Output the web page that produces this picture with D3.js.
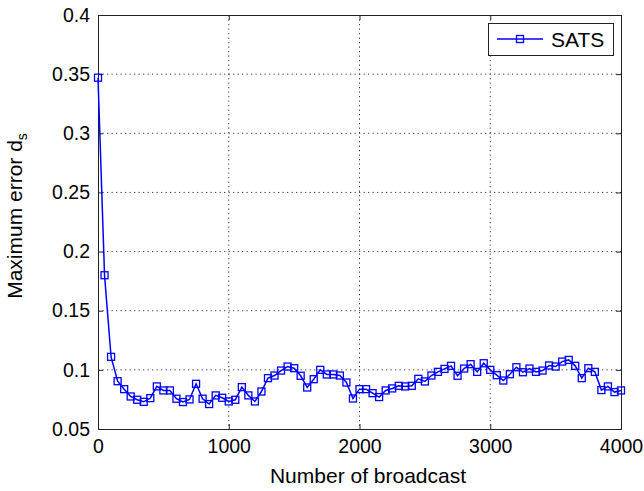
<!DOCTYPE html>
<html>
<head>
<meta charset="utf-8">
<script src="https://cdn.jsdelivr.net/npm/d3@7"></script>
<style>
  body { margin: 0; background: #fff; }
  text { font-family: "Liberation Sans", Arial, Helvetica, sans-serif; fill: #000; }
</style>
</head>
<body>
<div id="plot"></div>
<script>
// number of broadcasts (x) and max error d_s (y)
const broadcasts = [
  0, 50, 100, 150, 200, 250, 300, 350, 400, 450,
  500, 550, 600, 650, 700, 750, 800, 850, 900, 950,
  1000, 1050, 1100, 1150, 1200, 1250, 1300, 1350, 1400, 1450,
  1500, 1550, 1600, 1650, 1700, 1750, 1800, 1850, 1900, 1950,
  2000, 2050, 2100, 2150, 2200, 2250, 2300, 2350, 2400, 2450,
  2500, 2550, 2600, 2650, 2700, 2750, 2800, 2850, 2900, 2950,
  3000, 3050, 3100, 3150, 3200, 3250, 3300, 3350, 3400, 3450,
  3500, 3550, 3600, 3650, 3700, 3750, 3800, 3850, 3900, 3950,
  4000
];
const satsError = [
  0.347, 0.180, 0.111, 0.0904, 0.0837, 0.0775, 0.0747, 0.0730, 0.0761, 0.0860,
  0.0826, 0.0826, 0.0756, 0.0728, 0.0750, 0.0882, 0.0756, 0.0711, 0.0784, 0.0764,
  0.0733, 0.0747, 0.0854, 0.0784, 0.0733, 0.0817, 0.0930, 0.0952, 0.0994, 0.1028,
  0.1014, 0.0950, 0.0851, 0.0921, 0.1000, 0.0961, 0.0961, 0.0952, 0.0893, 0.0758,
  0.0837, 0.0837, 0.0803, 0.0770, 0.0826, 0.0843, 0.0865, 0.0860, 0.0865, 0.0924,
  0.0902, 0.0952, 0.0983, 0.1008, 0.1034, 0.0950, 0.1011, 0.1048, 0.0983, 0.1056,
  0.1000, 0.0955, 0.0910, 0.0963, 0.1022, 0.0980, 0.1011, 0.0983, 0.0994, 0.1037,
  0.1028, 0.1070, 0.1084, 0.1034, 0.0930, 0.1014, 0.0983, 0.0829, 0.0860, 0.0812,
  0.0826
];
const xTicks = [0, 1000, 2000, 3000, 4000];
const yTicks = [0.05, 0.1, 0.15, 0.2, 0.25, 0.3, 0.35, 0.4];
const seriesName = 'SATS';

const width = 644;
const height = 491;
const margin = { top: 15, right: 23, bottom: 62, left: 98 };
const innerWidth = width - margin.left - margin.right;
const innerHeight = height - margin.top - margin.bottom;
const blue = '#0000ff';

const svg = d3.select('#plot').append('svg')
  .attr('width', width)
  .attr('height', height);

const g = svg.append('g')
  .attr('transform', `translate(${margin.left}, ${margin.top})`);

const xScale = d3.scaleLinear().domain([0, 4000]).range([0, innerWidth]);
const yScale = d3.scaleLinear().domain([0.05, 0.4]).range([innerHeight, 0]);

// dotted grid (inner ticks only)
g.selectAll('.grid-x').data(xTicks.slice(1, -1)).enter().append('line')
  .attr('class', 'grid-x')
  .attr('x1', d => xScale(d)).attr('x2', d => xScale(d))
  .attr('y1', 0).attr('y2', innerHeight)
  .attr('stroke', '#444').attr('stroke-dasharray', '1.3,3.2');
g.selectAll('.grid-y').data(yTicks.slice(1, -1)).enter().append('line')
  .attr('class', 'grid-y')
  .attr('x1', 0).attr('x2', innerWidth)
  .attr('y1', d => yScale(d)).attr('y2', d => yScale(d))
  .attr('stroke', '#444').attr('stroke-dasharray', '1.3,3.2');

// axes, ticks pointing inward
const fmtY = d => d3.format('')(+d.toFixed(2));
const styleAxis = sel => {
  sel.select('.domain').remove();
  sel.attr('font-family', null).attr('font-size', null);
  sel.selectAll('line').attr('stroke', '#222');
  sel.selectAll('text').style('font-size', '19.5px').attr('fill', '#000');
};
// tick-only axes (top / right) have no labels
const ticksOnly = sel => {
  styleAxis(sel);
  sel.selectAll('text').remove();
};
g.append('g').attr('transform', `translate(0, ${innerHeight})`)
  .call(d3.axisBottom(xScale).tickValues(xTicks).tickSize(-5).tickPadding(10).tickFormat(d3.format('')))
  .call(styleAxis);
g.append('g')
  .call(d3.axisTop(xScale).tickValues(xTicks).tickSize(-5))
  .call(ticksOnly);
g.append('g')
  .call(d3.axisLeft(yScale).tickValues(yTicks).tickSize(-5).tickPadding(8).tickFormat(fmtY))
  .call(styleAxis);
g.append('g').attr('transform', `translate(${innerWidth}, 0)`)
  .call(d3.axisRight(yScale).tickValues(yTicks).tickSize(-5))
  .call(ticksOnly);

g.append('rect')
  .attr('width', innerWidth).attr('height', innerHeight)
  .attr('fill', 'none').attr('stroke', '#222').attr('stroke-width', 1)
  .attr('shape-rendering', 'crispEdges');

// data line + square markers
const points = broadcasts.map((b, i) => ({ x: b, y: satsError[i] }));
const line = d3.line().x(d => xScale(d.x)).y(d => yScale(d.y));
g.append('path')
  .datum(points)
  .attr('d', line)
  .attr('fill', 'none')
  .attr('stroke', blue)
  .attr('stroke-width', 1.5);

const sq = 7;
g.selectAll('.marker').data(points).enter().append('rect')
  .attr('class', 'marker')
  .attr('x', d => xScale(d.x) - sq / 2)
  .attr('y', d => yScale(d.y) - sq / 2)
  .attr('width', sq).attr('height', sq)
  .attr('fill', 'none')
  .attr('stroke', blue)
  .attr('stroke-width', 1.3);

// axis labels
svg.append('text')
  .attr('x', 368).attr('y', 483)
  .attr('text-anchor', 'middle')
  .style('font-size', '21px')
  .text('Number of broadcast');

const yLabel = svg.append('text')
  .attr('transform', 'translate(22, 216) rotate(-90)')
  .attr('text-anchor', 'middle')
  .style('font-size', '21px');
yLabel.append('tspan').text('Maximum error d');
yLabel.append('tspan').attr('dy', 5).style('font-size', '14px').text('s');

// legend
const legend = svg.append('g').attr('transform', 'translate(488, 23)');
legend.append('rect')
  .attr('width', 125).attr('height', 32)
  .attr('fill', '#fff').attr('stroke', '#222')
  .attr('shape-rendering', 'crispEdges');
legend.append('line')
  .attr('x1', 9).attr('x2', 55).attr('y1', 16).attr('y2', 16)
  .attr('stroke', blue).attr('stroke-width', 1.5);
legend.append('rect')
  .attr('x', 32 - sq / 2).attr('y', 16 - sq / 2)
  .attr('width', sq).attr('height', sq)
  .attr('fill', 'none').attr('stroke', blue).attr('stroke-width', 1.3);
legend.append('text')
  .attr('x', 63).attr('y', 24)
  .style('font-size', '21px')
  .text(seriesName);
</script>
</body>
</html>
